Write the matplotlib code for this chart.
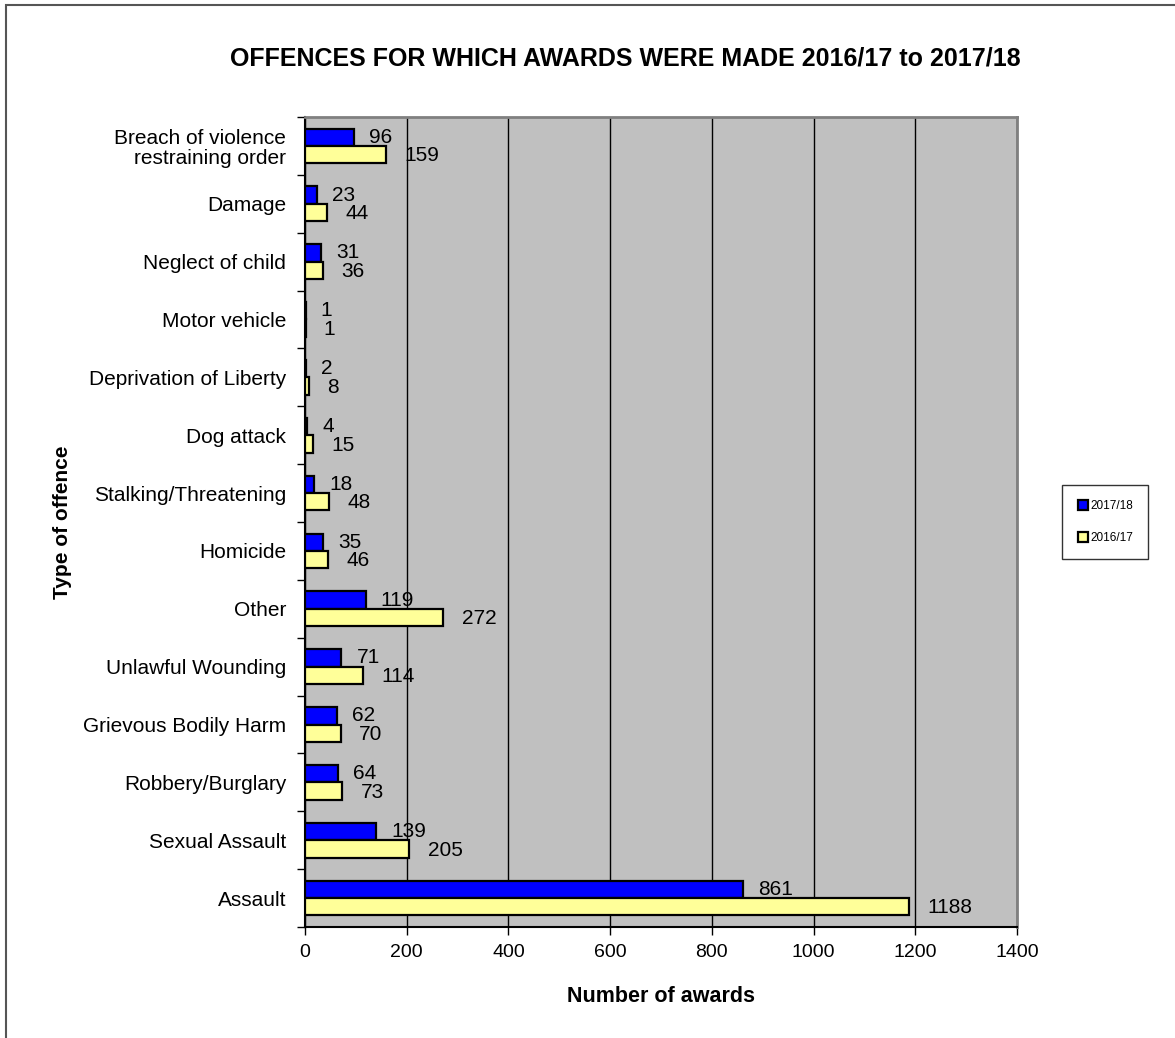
import matplotlib.pyplot as plt
import numpy as np
from matplotlib.patches import Rectangle

plt.rcParams['font.family'] = ['Liberation Sans', 'DejaVu Sans']

# categories listed top to bottom as in the chart
offences = ['Breach of violence\nrestraining order', 'Damage', 'Neglect of child',
            'Motor vehicle', 'Deprivation of Liberty', 'Dog attack',
            'Stalking/Threatening', 'Homicide', 'Other', 'Unlawful Wounding',
            'Grievous Bodily Harm', 'Robbery/Burglary', 'Sexual Assault', 'Assault']
awards_1718 = [96, 23, 31, 1, 2, 4, 18, 35, 119, 71, 62, 64, 139, 861]
awards_1617 = [159, 44, 36, 1, 8, 15, 48, 46, 272, 114, 70, 73, 205, 1188]
xticks = [0, 200, 400, 600, 800, 1000, 1200, 1400]

fig = plt.figure(figsize=(11.75, 10.38), dpi=100)
ax = fig.add_axes([0.2596, 0.1069, 0.6059, 0.7804])
ax.set_facecolor('#C0C0C0')

n = len(offences)
y = np.arange(n)
h = 0.3
ax.barh(y - h / 2, awards_1718, height=h, color='#0000FF', edgecolor='black',
        linewidth=1.6, label='2017/18', zorder=3)
ax.barh(y + h / 2, awards_1617, height=h, color='#FFFF99', edgecolor='black',
        linewidth=1.6, label='2016/17', zorder=3)

for yi, a, b in zip(y, awards_1718, awards_1617):
    ax.text(a + 30, yi - h / 2, str(a), fontsize=15, va='center', ha='left', zorder=4)
    ax.text(b + 36, yi + h / 2 + 0.02, str(b), fontsize=15, va='center', ha='left', zorder=4)

ax.set_ylim(n - 0.5, -0.5)
ax.set_xlim(0, 1400)
ax.set_xticks(xticks)
ax.set_xticklabels([str(t) for t in xticks], fontsize=14)
ax.set_yticks(y)
ax.set_yticklabels(offences, fontsize=15, ha='right', linespacing=1.05)
ax.set_yticks(np.arange(n + 1) - 0.5, minor=True)
ax.tick_params(axis='y', which='major', length=0, pad=13.5)
ax.tick_params(axis='y', which='minor', length=6, direction='out', width=1)
ax.tick_params(axis='x', length=6, direction='out', width=1, pad=6)
ax.grid(axis='x', color='black', linewidth=1, zorder=1)
ax.set_axisbelow(True)

for s in ['top', 'right']:
    ax.spines[s].set_color('#808080')
    ax.spines[s].set_linewidth(2)
for s in ['left', 'bottom']:
    ax.spines[s].set_color('black')
    ax.spines[s].set_linewidth(1.5)

ax.set_xlabel('Number of awards', fontsize=15.5, fontweight='bold', labelpad=18)
ax.set_ylabel('Type of offence', fontsize=15, fontweight='bold')
ax.yaxis.set_label_coords(-0.328, 0.5)

fig.text(0.532, 0.944, 'OFFENCES FOR WHICH AWARDS WERE MADE 2016/17 to 2017/18',
         fontsize=18, fontweight='bold', ha='center', va='center')

leg = fig.legend(loc='center left', bbox_to_anchor=(0.904, 0.497), fontsize=8.5,
                 frameon=True, fancybox=False, edgecolor='black', handlelength=0.9,
                 handleheight=0.9, handletextpad=0.15, labelspacing=1.7,
                 borderpad=1.3, borderaxespad=0)
leg.get_frame().set_linewidth(1)

# outer chart border
fig.patches.append(Rectangle((0.005, -0.01), 1.1, 1.005, transform=fig.transFigure,
                             fill=False, edgecolor='#555555', linewidth=1.5))

fig.savefig('out.png', dpi=100)
